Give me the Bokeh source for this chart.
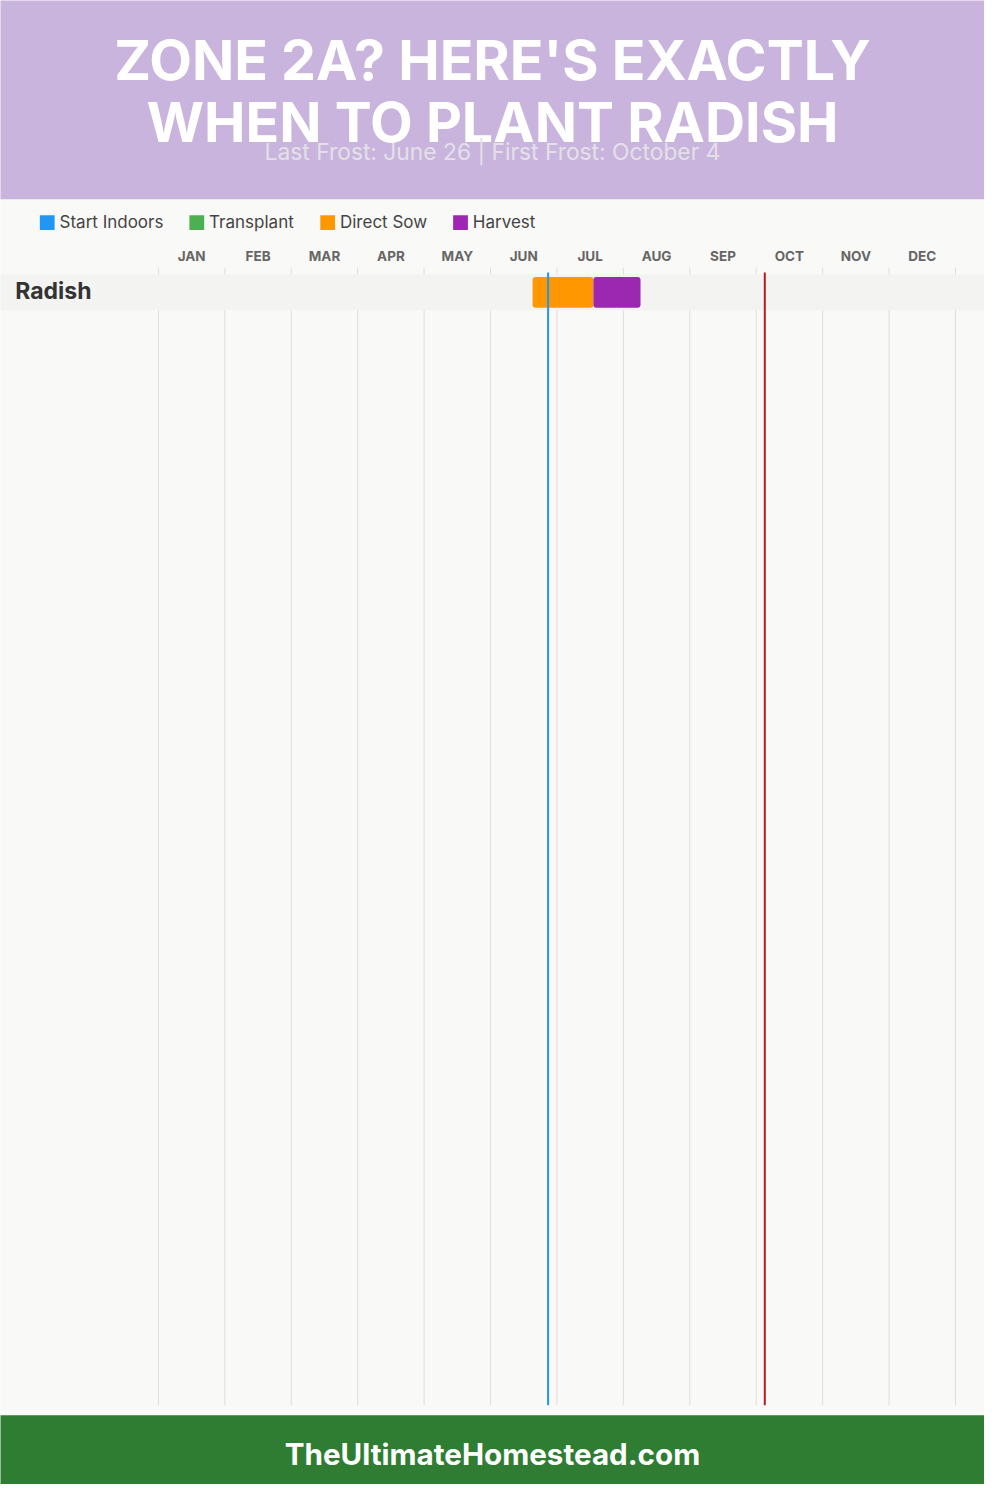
from bokeh.plotting import figure
from bokeh.models import Range1d, Label
from bokeh.embed import file_html
from bokeh.resources import INLINE
from bokeh.core.properties import value

# ---------------- data ----------------
months = ["JAN", "FEB", "MAR", "APR", "MAY", "JUN", "JUL", "AUG", "SEP", "OCT", "NOV", "DEC"]
month_days = [31, 28, 31, 30, 31, 30, 31, 31, 30, 31, 30, 31]
crops = ["Radish"]
direct_sow_start = [(6, 19)]
direct_sow_end = [(7, 17)]
harvest_start = [(7, 17)]
harvest_end = [(8, 8)]
last_frost = (6, 26)
first_frost = (10, 4)
legend_labels = ["Start Indoors", "Transplant", "Direct Sow", "Harvest"]
legend_colors = ["#2196F3", "#4CAF50", "#FF9800", "#9C27B0"]
title_lines = ["ZONE 2A? HERE'S EXACTLY", "WHEN TO PLANT RADISH"]
subtitle = "Last Frost: June 26 | First Frost: October 4"
footer = "TheUltimateHomestead.com"

# ---------------- layout helpers ----------------
W, H = 984, 1484
REF_W, REF_H = 1000, 1500
X0, MW = 160.5, 67.5  # reference x of January start, reference width of a month
YS = H / REF_H        # screen px per vertical data unit


def xd(X):
    """reference pixel X -> month units"""
    return (X - X0) / MW


def pos(md):
    m, d = md
    return (m - 1) + d / month_days[m - 1]


def base(y, size):
    """correct Bokeh's alphabetic baseline offset"""
    return y - 0.4 * size / YS


FONT = "Inter"

p = figure(width=W, height=H, output_backend="svg", toolbar_location=None,
           x_range=Range1d(xd(0), xd(REF_W)), y_range=Range1d(REF_H, 0),
           x_axis_location=None, y_axis_location=None, min_border=0,
           background_fill_color="#F9F9F7", border_fill_color="#F9F9F7")
p.outline_line_color = None
p.grid.visible = False

L, R = xd(-50), xd(1050)

# header and footer blocks
p.quad(left=[L], right=[R], top=[-10], bottom=[201], fill_color="#C9B4DD", line_color=None)
p.quad(left=[L], right=[R], top=[1430], bottom=[1520], fill_color="#2E7D32", line_color=None)

# title
TS = 55.5
for i, t in enumerate(title_lines):
    p.add_layout(Label(x=xd(500), y=base(82 + i * 63, TS), text=t, text_align="center",
                       text_baseline="alphabetic", text_font=FONT, text_font_style="bold",
                       text_font_size=f"{TS}px", text_color="white"))
SS = 22.8
p.add_layout(Label(x=xd(500), y=base(162, SS), text=subtitle, text_align="center",
                   text_baseline="alphabetic", text_font=FONT, text_font_size=f"{SS}px",
                   text_color="#E4E0E8"))

# legend
LS = 17
legend_x = [40, 192, 325, 460]
for lx, lab, col in zip(legend_x, legend_labels, legend_colors):
    p.quad(left=[xd(lx)], right=[xd(lx + 15)], top=[217], bottom=[232],
           fill_color=col, line_color=None)
    p.add_layout(Label(x=xd(lx + 20), y=base(231, LS), text=lab, text_baseline="alphabetic",
                       text_font=FONT, text_font_size=f"{LS}px", text_color="#444444"))

# month labels
MS = 13.5
p.text(x=[i + 0.5 for i in range(12)], y=[base(264, MS)] * 12, text=months,
       text_align="center", text_baseline="alphabetic", text_font=value(FONT),
       text_font_style="bold", text_font_size=f"{MS}px", text_color="#666666")

# month grid lines
p.segment(x0=list(range(13)), y0=[270] * 13, x1=list(range(13)), y1=[1420] * 13,
          line_color="#DDDDDD", line_width=1)

# crop rows
ROW_TOP, ROW_H = 277, 36
row_c = [ROW_TOP + ROW_H / 2 + i * ROW_H for i in range(len(crops))]
p.quad(left=[L] * len(crops), right=[R] * len(crops),
       top=[ROW_TOP + i * ROW_H for i in range(len(crops))],
       bottom=[ROW_TOP + (i + 1) * ROW_H for i in range(len(crops))],
       fill_color="#F3F3F2", line_color=None)
CS = 23
for c, yc in zip(crops, row_c):
    p.add_layout(Label(x=xd(15), y=base(yc + 8, CS), text=c, text_baseline="alphabetic",
                       text_font=FONT, text_font_style="bold", text_font_size=f"{CS}px",
                       text_color="#333333"))

p.hbar(y=row_c, left=[pos(s) for s in direct_sow_start], right=[pos(e) for e in direct_sow_end],
       height=31, fill_color="#FF9800", line_color=None, border_radius=3)
p.hbar(y=row_c, left=[pos(s) for s in harvest_start], right=[pos(e) for e in harvest_end],
       height=31, fill_color="#9C27B0", line_color=None, border_radius=3)

# frost lines
p.segment(x0=[pos(last_frost)], y0=[275], x1=[pos(last_frost)], y1=[1420],
          line_color="#2196F3", line_width=2)
p.segment(x0=[pos(first_frost)], y0=[275], x1=[pos(first_frost)], y1=[1420],
          line_color="#B71C1C", line_width=2)

# footer text
FS = 29.6
p.add_layout(Label(x=xd(500), y=base(1481, FS), text=footer, text_align="center",
                   text_baseline="alphabetic", text_font=FONT, text_font_style="bold",
                   text_font_size=f"{FS}px", text_color="white"))

open("out.html", "w").write(file_html(p, INLINE))
